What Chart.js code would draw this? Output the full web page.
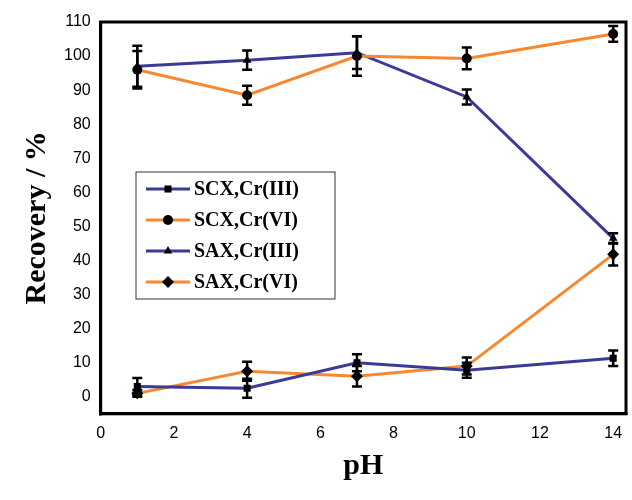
<!DOCTYPE html>
<html><head><meta charset="utf-8">
<script src="https://cdn.jsdelivr.net/npm/chart.js@4"></script>
<style>html,body{margin:0;padding:0;background:#fff}#w{width:632px;height:500px}</style>
</head><body><div id="w"><canvas id="c"></canvas></div>
<script>
const pH = [1, 4, 7, 10, 14];
const scxCr3 = [3, 2.5, 10, 7.8, 11.3];
const scxCr3Err = [2.5, 2.8, 2.5, 2.2, 2.3];
const scxCr6 = [96, 88.5, 100, 99.3, 106.5];
const scxCr6Err = [5.5, 2.8, 5.8, 3.2, 2.3];
const saxCr3 = [97, 98.8, 101, 88, 46.5];
const saxCr3Err = [6, 2.8, 4.8, 2.2, 1.5];
const saxCr6 = [1, 7.5, 6, 9, 41.8];
const saxCr6Err = [1, 2.8, 3, 2.5, 3.3];
const xTicks = [0, 2, 4, 6, 8, 10, 12, 14];
const yTicks = [0, 10, 20, 30, 40, 50, 60, 70, 80, 90, 100, 110];
const names = ['SCX,Cr(III)', 'SCX,Cr(VI)', 'SAX,Cr(III)', 'SAX,Cr(VI)'];
const BLUE = '#3b3a97', ORANGE = '#f7882f';
function mk(label, vals, errs, color, style) {
  return { label, data: pH.map((x, i) => ({ x, y: vals[i], e: errs[i] })), borderColor: color, backgroundColor: '#000',
    pointBorderColor: '#000', pointStyle: style, pointRadius: style === 'rectRot' ? 6 : 5, borderWidth: 3, pointBorderWidth: 0, tension: 0 };
}
const sets = [
  mk(names[0], scxCr3, scxCr3Err, BLUE, 'rect'),
  mk(names[1], scxCr6, scxCr6Err, ORANGE, 'circle'),
  mk(names[2], saxCr3, saxCr3Err, BLUE, 'triangle'),
  mk(names[3], saxCr6, saxCr6Err, ORANGE, 'rectRot')
];
const errPlugin = { id: 'err', afterDatasetsDraw(ch) {
  const c = ch.ctx, xs = ch.scales.x, ys = ch.scales.y;
  c.save(); c.strokeStyle = '#000'; c.lineWidth = 2.5;
  ch.data.datasets.forEach(d => d.data.forEach(p => {
    const x = xs.getPixelForValue(p.x), y1 = ys.getPixelForValue(p.y - p.e), y2 = ys.getPixelForValue(p.y + p.e);
    c.beginPath(); c.moveTo(x, y1); c.lineTo(x, y2);
    c.moveTo(x - 5, y1); c.lineTo(x + 5, y1); c.moveTo(x - 5, y2); c.lineTo(x + 5, y2); c.stroke();
  }));
  const a = ch.chartArea; c.lineWidth = 3; c.strokeRect(a.left, a.top, a.right - a.left, a.bottom - a.top);
  const lx = 136, ly = 172, lw = 199, lh = 127;
  c.lineWidth = 1; c.fillStyle = '#fff'; c.fillRect(lx, ly, lw, lh); c.strokeStyle = '#333'; c.strokeRect(lx, ly, lw, lh);
  c.font = 'bold 20px "Liberation Serif"'; c.textBaseline = 'middle';
  ch.data.datasets.forEach((d, i) => {
    const yy = ly + 17 + i * 31;
    c.strokeStyle = d.borderColor; c.lineWidth = 3; c.beginPath(); c.moveTo(lx + 10, yy); c.lineTo(lx + 54, yy); c.stroke();
    c.fillStyle = '#000';
    Chart.helpers.drawPoint(c, { pointStyle: d.pointStyle, radius: d.pointRadius, rotation: 0, borderWidth: 0 }, lx + 32, yy);
    c.fillStyle = '#000'; c.fillText(d.label, lx + 58, yy + 1);
  });
  c.restore();
}};
new Chart(document.getElementById('c'), {
  type: 'line', data: { datasets: sets },
  options: { responsive: true, maintainAspectRatio: false, animation: false,
    layout: { padding: { top: 22, right: 3, left: 15, bottom: 12 } },
    plugins: { legend: { display: false }, tooltip: { enabled: false } },
    scales: {
      x: { type: 'linear', min: 0, max: 14.35, afterBuildTicks: s => { s.ticks = xTicks.map(v => ({ value: v })); },
        grid: { display: false, drawTicks: true, tickLength: 7, tickColor: '#000', lineWidth: 2.5 }, border: { color: '#000', width: 3 },
        ticks: { color: '#000', font: { family: 'Liberation Sans', size: 16 } },
        title: { display: true, text: 'pH', color: '#000', font: { family: 'Liberation Serif', size: 30, weight: 'bold' }, padding: { top: 2 } } },
      y: { min: -5, max: 110, afterBuildTicks: s => { s.ticks = yTicks.map(v => ({ value: v })); },
        grid: { display: false, tickLength: 7, tickColor: '#000', lineWidth: 2.5 }, border: { color: '#000', width: 3 },
        ticks: { color: '#000', font: { family: 'Liberation Sans', size: 16 } },
        title: { display: true, text: 'Recovery / %', color: '#000', font: { family: 'Liberation Serif', size: 30, weight: 'bold' }, padding: { bottom: 6 } } }
    } },
  plugins: [errPlugin]
});
</script></body></html>
